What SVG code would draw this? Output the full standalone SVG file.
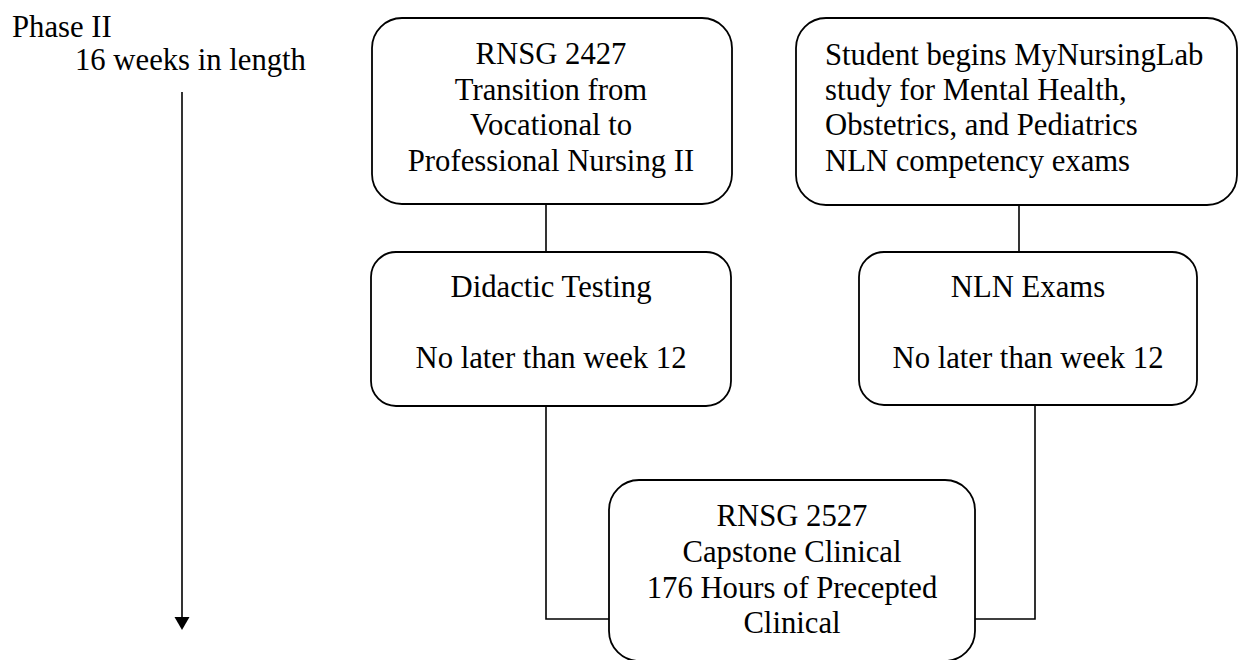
<svg xmlns="http://www.w3.org/2000/svg" width="1239" height="660" viewBox="0 0 1239 660">
<defs>
<style>
.box{fill:#fff;stroke:#000;stroke-width:1.8}
.t{font-family:"Liberation Serif","Times New Roman",serif;font-size:30.7px;fill:#000}
.c{text-anchor:middle}
.conn{fill:none;stroke:#000;stroke-width:1.6}
</style>
<marker id="ah" markerWidth="16" markerHeight="13" refX="8" refY="12" orient="auto-start-reverse" markerUnits="userSpaceOnUse" viewBox="0 0 16 13">
<path d="M0,0 L16,0 L8,13 Z" fill="#000" transform="rotate(-90 8 6.5)"/>
</marker>
</defs>
<rect width="1239" height="660" fill="#fff"/>
<g id="timeline">
<text class="t" x="12" y="37">Phase II</text>
<text class="t" x="75" y="70">16 weeks in length</text>
<line x1="182" y1="92" x2="182" y2="618" stroke="#000" stroke-width="1.6"/>
<path d="M174.5,617 L189.5,617 L182,630 Z" fill="#000"/>
</g>
<g id="connectors">
<line class="conn" x1="546" y1="204" x2="546" y2="252"/>
<line class="conn" x1="1019" y1="204" x2="1019" y2="252"/>
<polyline class="conn" points="546,406 546,619 609,619"/>
<polyline class="conn" points="1035,405 1035,619 975,619"/>
</g>
<g id="n1">
<rect class="box" x="372" y="18" width="360" height="186" rx="30" ry="30"/>
<text class="t c" x="551" y="64">RNSG 2427</text>
<text class="t c" x="551" y="100">Transition from</text>
<text class="t c" x="551" y="135">Vocational to</text>
<text class="t c" x="551" y="171">Professional Nursing II</text>
</g>
<g id="n2">
<rect class="box" x="796" y="18" width="441" height="187" rx="30" ry="30"/>
<text class="t" x="825" y="65">Student begins MyNursingLab</text>
<text class="t" x="825" y="100">study for Mental Health,</text>
<text class="t" x="825" y="135">Obstetrics, and Pediatrics</text>
<text class="t" x="825" y="171">NLN competency exams</text>
</g>
<g id="n3">
<rect class="box" x="371" y="252" width="360" height="154" rx="25" ry="25"/>
<text class="t c" x="551" y="297">Didactic Testing</text>
<text class="t c" x="551" y="368">No later than week 12</text>
</g>
<g id="n4">
<rect class="box" x="859" y="252" width="338" height="153" rx="25" ry="25"/>
<text class="t c" x="1028" y="297">NLN Exams</text>
<text class="t c" x="1028" y="368">No later than week 12</text>
</g>
<g id="n5">
<rect class="box" x="609" y="480" width="366" height="181" rx="30" ry="30"/>
<text class="t c" x="792" y="526">RNSG 2527</text>
<text class="t c" x="792" y="562">Capstone Clinical</text>
<text class="t c" x="792" y="598">176 Hours of Precepted</text>
<text class="t c" x="792" y="633">Clinical</text>
</g>
</svg>
